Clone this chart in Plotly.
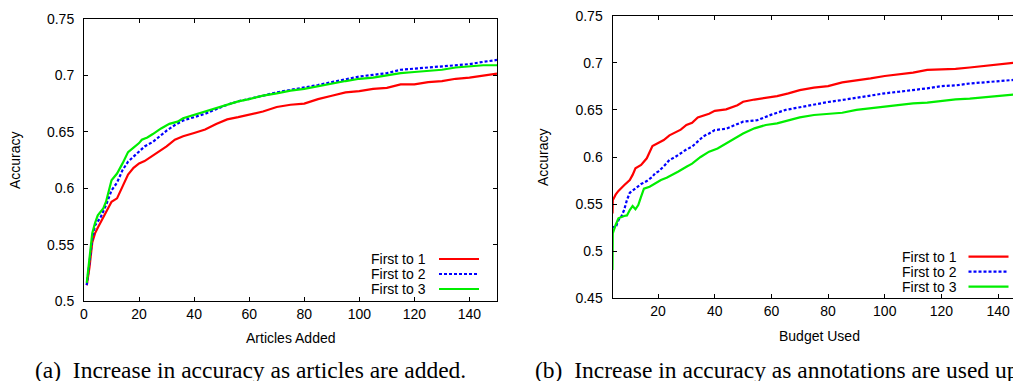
import plotly.graph_objects as go

W, H = 1021, 381
OFF = 8  # the page body adds an 8px margin; positions below are page pixels

# ---------------- data: (a) accuracy vs articles added ----------------
a_x_red = [1, 2, 3, 4, 5, 8, 10, 12, 14, 16, 18, 20, 22, 25, 28, 30, 33, 36, 40, 44, 48, 52, 56, 60,
           65, 70, 75, 80, 85, 90, 95, 100, 105, 110, 115, 120, 125, 130, 135, 140, 145, 150]
a_red = [0.514, 0.530, 0.552, 0.560, 0.565, 0.578, 0.588, 0.591, 0.601, 0.612, 0.618, 0.622, 0.624,
         0.629, 0.634, 0.637, 0.643, 0.646, 0.649, 0.652, 0.657, 0.661, 0.663, 0.665, 0.668, 0.672,
         0.674, 0.675, 0.679, 0.682, 0.685, 0.686, 0.688, 0.689, 0.692, 0.692, 0.694, 0.695, 0.697,
         0.698, 0.700, 0.7015]

a_x_blue = [1, 2, 3, 4, 6, 8, 10, 12, 14, 16, 18, 20, 22, 25, 28, 30, 33, 36, 40, 44, 48, 52, 56, 60,
            65, 70, 75, 80, 85, 90, 95, 100, 105, 110, 115, 120, 125, 130, 135, 140, 145, 150]
a_blue = [0.514, 0.535, 0.555, 0.567, 0.574, 0.585, 0.598, 0.605, 0.616, 0.6235, 0.628, 0.632, 0.637,
          0.641, 0.647, 0.651, 0.656, 0.660, 0.663, 0.666, 0.670, 0.674, 0.677, 0.679, 0.682, 0.685,
          0.687, 0.689, 0.6915, 0.694, 0.6965, 0.699, 0.7005, 0.702, 0.705, 0.706, 0.707, 0.708,
          0.709, 0.710, 0.712, 0.7137]

a_x_green = [1, 2, 3, 4, 5, 7, 8, 10, 12, 14, 16, 18, 20, 21, 23, 25, 28, 31, 34, 36, 40, 44, 48, 52,
             56, 60, 65, 70, 75, 80, 85, 90, 95, 100, 105, 110, 115, 120, 125, 130, 135, 140, 145, 150]
a_green = [0.516, 0.540, 0.560, 0.569, 0.576, 0.582, 0.588, 0.607, 0.613, 0.622, 0.632, 0.636, 0.640,
           0.643, 0.645, 0.648, 0.653, 0.657, 0.659, 0.662, 0.665, 0.668, 0.671, 0.674, 0.677, 0.679,
           0.682, 0.684, 0.6865, 0.688, 0.6905, 0.693, 0.695, 0.697, 0.698, 0.700, 0.702, 0.703,
           0.704, 0.705, 0.707, 0.708, 0.709, 0.709]

# ---------------- data: (b) accuracy vs budget used ----------------
b_x_red = [3.9, 4, 5, 6, 8, 10, 11, 12, 14, 16, 18, 20, 22, 24, 26, 28, 30, 32, 34, 36, 38, 40, 44, 48,
           50, 54, 58, 62, 66, 70, 75, 80, 85, 90, 95, 100, 105, 110, 115, 120, 125, 130, 135, 140,
           145, 150]
b_red = [0.540, 0.554, 0.560, 0.564, 0.570, 0.5756, 0.581, 0.588, 0.5915, 0.5986, 0.6117, 0.615,
         0.618, 0.623, 0.6258, 0.629, 0.634, 0.6364, 0.642, 0.644, 0.646, 0.649, 0.6506, 0.655,
         0.6587, 0.661, 0.6626, 0.6647, 0.6676, 0.671, 0.6736, 0.6753, 0.6792, 0.681, 0.6835, 0.686,
         0.688, 0.6895, 0.6924, 0.693, 0.6935, 0.695, 0.6966, 0.6983, 0.7005, 0.7015]

b_x_blue = [3.9, 5, 6, 7, 8, 9, 10, 12, 14, 16, 18, 19, 20, 22, 24, 26, 28, 30, 32, 34, 36, 38, 40, 44,
            48, 50, 55, 60, 65, 70, 75, 80, 85, 90, 95, 100, 105, 110, 115, 120, 125, 130, 135, 140,
            145, 150]
b_blue = [0.526, 0.525, 0.533, 0.5367, 0.5437, 0.5544, 0.562, 0.5667, 0.5713, 0.5745, 0.579, 0.583,
          0.5844, 0.590, 0.5968, 0.600, 0.604, 0.608, 0.611, 0.617, 0.622, 0.625, 0.6286, 0.630,
          0.635, 0.6375, 0.639, 0.645, 0.650, 0.6527, 0.6562, 0.6584, 0.6605, 0.663, 0.6647, 0.6676,
          0.6693, 0.671, 0.6729, 0.6753, 0.676, 0.678, 0.679, 0.6807, 0.6817, 0.6840]

b_x_green = [3.9, 4, 5, 6, 8, 9, 10, 11, 12, 13, 14, 15, 17, 19, 21, 23, 25, 27, 30, 32, 35, 38, 41, 44,
             47, 50, 54, 58, 62, 66, 70, 75, 80, 85, 90, 95, 100, 105, 110, 115, 120, 125, 130, 135,
             140, 145, 150]
b_green = [0.480, 0.519, 0.5278, 0.535, 0.5374, 0.538, 0.5437, 0.548, 0.5445, 0.549, 0.558, 0.5664,
           0.5685, 0.572, 0.5756, 0.578, 0.581, 0.5844, 0.5897, 0.593, 0.600, 0.6057, 0.609, 0.6145,
           0.6198, 0.625, 0.6304, 0.634, 0.6357, 0.6386, 0.642, 0.6446, 0.6456, 0.647, 0.650, 0.6516,
           0.654, 0.655, 0.657, 0.6577, 0.6598, 0.6612, 0.662, 0.6633, 0.6647, 0.666, 0.6676]

series_names = ["First to 1", "First to 2", "First to 3"]
colors = ["#ff0000", "#0000ff", "#00ee00"]
dashes = ["solid", "3px,2px", "solid"]

a_ticks_x = [0, 20, 40, 60, 80, 100, 120, 140]
a_ticks_y = [0.5, 0.55, 0.6, 0.65, 0.7, 0.75]
a_tick_text_y = ["0.5", "0.55", "0.6", "0.65", "0.7", "0.75"]
b_ticks_x = [20, 40, 60, 80, 100, 120, 140]
b_ticks_y = [0.45, 0.5, 0.55, 0.6, 0.65, 0.7, 0.75]
b_tick_text_y = ["0.45", "0.5", "0.55", "0.6", "0.65", "0.7", "0.75"]


def px(x):
    return (x - OFF) / W


def py(y):
    return 1 - (y - OFF) / H


SANS = "Liberation Sans, Arial, sans-serif"
SERIF = "Liberation Serif, Times New Roman, serif"

fig = go.Figure()

a_sets = [(a_x_red, a_red), (a_x_blue, a_blue), (a_x_green, a_green)]
b_sets = [(b_x_red, b_red), (b_x_blue, b_blue), (b_x_green, b_green)]

for i, (xs, ys) in enumerate(a_sets):
    fig.add_trace(go.Scatter(x=xs, y=ys, mode="lines", name=series_names[i], showlegend=False,
                             line=dict(color=colors[i], width=2.2, dash=dashes[i]),
                             xaxis="x", yaxis="y"))
for i, (xs, ys) in enumerate(b_sets):
    fig.add_trace(go.Scatter(x=xs, y=ys, mode="lines", name=series_names[i], showlegend=False,
                             line=dict(color=colors[i], width=2.2, dash=dashes[i]),
                             xaxis="x2", yaxis="y2"))

axis_common = dict(showgrid=False, zeroline=False, showline=True, linecolor="black", linewidth=1,
                   ticks="inside", ticklen=4, tickwidth=1, tickcolor="black", automargin=False,
                   ticklabeloverflow="allow",
                   tickfont=dict(family=SANS, size=14, color="black"))

fig.update_layout(
    width=W, height=H, autosize=False,
    margin=dict(l=0, r=0, t=0, b=0, pad=0, autoexpand=False),
    paper_bgcolor="white", plot_bgcolor="white",
    showlegend=False,
    xaxis=dict(domain=[px(84), px(497)], range=[0, 150], tickvals=a_ticks_x,
               mirror="ticks", anchor="y", **axis_common),
    yaxis=dict(domain=[py(301), py(19)], range=[0.5, 0.75], tickvals=a_ticks_y,
               ticktext=a_tick_text_y, mirror="ticks", anchor="x", ticklabelstandoff=6,
               **axis_common),
    xaxis2=dict(domain=[px(612.5), px(1021)], range=[3.9, 148.1], tickvals=b_ticks_x,
                mirror="ticks", anchor="y2", **axis_common),
    yaxis2=dict(domain=[py(298.3), py(15.7)], range=[0.45, 0.75], tickvals=b_ticks_y,
                ticktext=b_tick_text_y, mirror=False, anchor="x2", ticklabelstandoff=6,
                **axis_common),
)

ann = []
# axis titles
ann.append(dict(text="Articles Added", x=px(290.5), y=py(338), xanchor="center", yanchor="middle"))
ann.append(dict(text="Accuracy", x=px(15), y=py(160), xanchor="center", yanchor="middle", textangle=-90))
ann.append(dict(text="Budget Used", x=px(819), y=py(336), xanchor="center", yanchor="middle"))
ann.append(dict(text="Accuracy", x=px(543), y=py(157), xanchor="center", yanchor="middle", textangle=-90))
for a in ann:
    a.update(xref="paper", yref="paper", showarrow=False,
             font=dict(family=SANS, size=14, color="black"))

# legends (gnuplot style: label then sample)
shapes = []
leg_specs = [
    (428, 439, 479, [259, 274, 289]),
    (958.5, 968.5, 1008.5, [256.7, 271.7, 286.7]),
]
for text_right, l0, l1, rows in leg_specs:
    for i, yrow in enumerate(rows):
        ann.append(dict(text=series_names[i], x=px(text_right), y=py(yrow), xref="paper", yref="paper",
                        xanchor="right", yanchor="middle", showarrow=False,
                        font=dict(family=SANS, size=14, color="black")))
        shapes.append(dict(type="line", xref="paper", yref="paper", x0=px(l0), x1=px(l1),
                           y0=py(yrow), y1=py(yrow),
                           line=dict(color=colors[i], width=2.2, dash=dashes[i])))

# captions
ann.append(dict(text="(a)\u00a0\u00a0Increase in accuracy as articles are added.", x=px(33), y=py(370),
                xref="paper", yref="paper", xanchor="left", yanchor="middle", showarrow=False,
                font=dict(family=SERIF, size=23.5, color="black")))
ann.append(dict(text="(b)\u00a0\u00a0Increase in accuracy as annotations are used up", x=px(533), y=py(370),
                xref="paper", yref="paper", xanchor="left", yanchor="middle", showarrow=False,
                font=dict(family=SERIF, size=23.5, color="black")))

fig.update_layout(annotations=ann, shapes=shapes)

fig.write_html("out.html")
